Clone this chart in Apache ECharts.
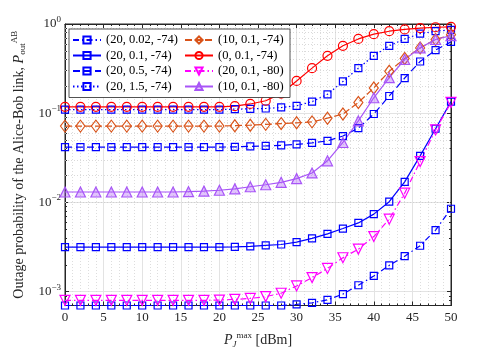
<!DOCTYPE html>
<html>
<head>
<meta charset="utf-8">
<script src="https://cdn.jsdelivr.net/npm/echarts@6/dist/echarts.min.js"></script>
<style>
html, body { margin: 0; padding: 0; background: #fff; }
#main { width: 498px; height: 354px; }
</style>
</head>
<body>
<div id="main"></div>
<script>
// P_J^max [dBm]
var pjMax = [0, 2, 4, 6, 8, 10, 12, 14, 16, 18, 20, 22, 24, 26, 28, 30, 32, 34, 36, 38, 40, 42, 44, 46, 48, 50];

var seriesNames = ['(20, 0.02, -74)', '(20, 0.1, -74)', '(20, 0.5, -74)', '(20, 1.5, -74)',
                   '(10, 0.1, -74)', '(0, 0.1, -74)', '(20, 0.1, -80)', '(10, 0.1, -80)'];

var pout_20_002_74 = [7e-4, 7e-4, 7e-4, 7e-4, 7e-4, 7e-4, 7e-4, 7e-4, 7e-4, 7e-4, 7e-4, 7e-4, 7e-4, 7e-4, 7e-4,
                      7.2e-4, 7.5e-4, 8.1e-4, 9.4e-4, 1.18e-3, 1.5e-3, 1.97e-3, 2.5e-3, 3.27e-3, 4.9e-3, 8.5e-3];
var pout_20_01_74  = [3.16e-3, 3.16e-3, 3.16e-3, 3.16e-3, 3.16e-3, 3.16e-3, 3.16e-3, 3.16e-3, 3.16e-3, 3.16e-3, 3.16e-3,
                      3.18e-3, 3.22e-3, 3.3e-3, 3.38e-3, 3.6e-3, 3.95e-3, 4.45e-3, 5.1e-3, 5.9e-3, 7.4e-3, 0.0102, 0.017, 0.0333, 0.067, 0.135];
var pout_20_05_74  = [0.0417, 0.0417, 0.0417, 0.0417, 0.0417, 0.0417, 0.0417, 0.0417, 0.0417, 0.0417, 0.0417,
                      0.042, 0.0425, 0.043, 0.0436, 0.0447, 0.0465, 0.049, 0.0555, 0.068, 0.098, 0.156, 0.248, 0.38, 0.51, 0.63];
var pout_20_15_74  = [0.11, 0.11, 0.11, 0.11, 0.11, 0.11, 0.11, 0.11, 0.11, 0.11, 0.11,
                      0.111, 0.112, 0.113, 0.116, 0.121, 0.135, 0.163, 0.227, 0.32, 0.44, 0.57, 0.68, 0.78, 0.83, 0.86];
var pout_10_01_74  = [0.0717, 0.0717, 0.0717, 0.0717, 0.0717, 0.0717, 0.0717, 0.0717, 0.0717, 0.0717, 0.0717,
                      0.0725, 0.0735, 0.075, 0.0765, 0.078, 0.08, 0.088, 0.098, 0.132, 0.192, 0.295, 0.41, 0.54, 0.67, 0.76];
var pout_0_01_74   = [0.118, 0.118, 0.118, 0.118, 0.118, 0.118, 0.118, 0.118, 0.118, 0.118, 0.118,
                      0.12, 0.127, 0.138, 0.166, 0.23, 0.32, 0.44, 0.57, 0.68, 0.77, 0.83, 0.87, 0.9, 0.92, 0.93];
var pout_20_01_80  = [8e-4, 8e-4, 8e-4, 8e-4, 8e-4, 8e-4, 8e-4, 8e-4, 8e-4, 8e-4,
                      8.05e-4, 8.2e-4, 8.4e-4, 8.8e-4, 9.6e-4, 1.16e-3, 1.44e-3, 1.82e-3, 2.4e-3, 3.0e-3, 4.15e-3, 6.5e-3, 0.0127, 0.0287, 0.065, 0.132];
var pout_10_01_80  = [0.0131, 0.0131, 0.0131, 0.0131, 0.0131, 0.0131, 0.0131, 0.0131,
                      0.0132, 0.0134, 0.0137, 0.0142, 0.015, 0.0158, 0.0168, 0.0185, 0.0214, 0.0293, 0.047, 0.082, 0.149, 0.25, 0.4, 0.54, 0.67, 0.74];

var yMajorTicks = [1e-3, 1e-2, 1e-1];
var yMinorTicks = [8e-4, 9e-4,
                   2e-3, 3e-3, 4e-3, 5e-3, 6e-3, 7e-3, 8e-3, 9e-3,
                   2e-2, 3e-2, 4e-2, 5e-2, 6e-2, 7e-2, 8e-2, 9e-2,
                   0.2, 0.3, 0.4, 0.5, 0.6, 0.7, 0.8, 0.9];

var FONT = '"Liberation Serif", "DejaVu Serif", serif';
var INK = '#262626';

function pair(vals) {
    return pjMax.map(function (x, i) { return [x, vals[i]]; });
}

function powLabel(v) {
    var lg = Math.log10(v);
    var e = Math.round(lg);
    if (Math.abs(lg - e) > 1e-6) return '';
    return '{b|10}{s|' + (e < 0 ? '\u2212' + (-e) : e) + '}';
}

// one curve
function curve(name, vals, color, dash, symbol, size, fill, rot) {
    return {
        name: name,
        type: 'line',
        data: pair(vals),
        clip: false,
        symbol: symbol,
        symbolSize: size,
        symbolRotate: rot || 0,
        showAllSymbol: true,
        lineStyle: { color: color, width: 1.2, type: dash },
        itemStyle: { color: fill || 'rgba(255,255,255,0)', borderColor: color, borderWidth: 1.2 },
        emphasis: { disabled: true },
        z: 3
    };
}

var series = [
    curve(seriesNames[0], pout_20_002_74, '#0000ff', [6, 3, 1.5, 3], 'rect', 7),
    curve(seriesNames[1], pout_20_01_74,  '#0000ff', 'solid', 'rect', 7),
    curve(seriesNames[2], pout_20_05_74,  '#0000ff', [7, 4], 'rect', 7),
    curve(seriesNames[3], pout_20_15_74,  '#0000ff', [1.5, 2.5], 'rect', 7),
    curve(seriesNames[4], pout_10_01_74,  '#d95319', [7, 3], 'diamond', [9, 12]),
    curve(seriesNames[5], pout_0_01_74,   '#ff0000', 'solid', 'circle', 9),
    curve(seriesNames[6], pout_20_01_80,  '#ff00ff', [6, 3, 1.5, 3], 'triangle', 10, null, 180),
    curve(seriesNames[7], pout_10_01_80,  '#a855f7', 'solid', 'triangle', 10, 'rgba(168,85,247,0.35)')
];

// minor dotted grid of the log axis
series[0].markLine = {
    silent: true,
    symbol: 'none',
    z: 1,
    label: { show: false },
    lineStyle: { color: '#cfcfcf', width: 0.8, type: [1, 2] },
    data: yMinorTicks.map(function (v) { return { yAxis: v }; })
};

var legendText = { fontFamily: FONT, fontSize: 12.5, color: '#000', lineHeight: 14, width: 80 };

var option = {
    animation: false,
    backgroundColor: '#fff',
    grid: { left: 65, right: 47, top: 24, bottom: 41, show: true, borderColor: INK, borderWidth: 1 },
    legend: [{
        orient: 'vertical',
        left: 69, top: 29,
        data: seriesNames.slice(0, 4),
        itemWidth: 28, itemHeight: 9, itemGap: 1.5,
        padding: [4, 104, 4, 3],
        backgroundColor: '#fff',
        borderColor: INK, borderWidth: 0.8,
        textStyle: legendText,
        selectedMode: false
    }, {
        orient: 'vertical',
        left: 184, top: 33,
        data: seriesNames.slice(4),
        itemWidth: 28, itemHeight: 9, itemGap: 1.5,
        padding: 0,
        textStyle: legendText,
        selectedMode: false
    }],
    xAxis: [{
        type: 'value', min: 0, max: 50, interval: 5,
        name: '{i|P}{sub|J}{sup|max} [dBm]',
        nameLocation: 'middle', nameGap: 26,
        nameTextStyle: {
            fontFamily: FONT, fontSize: 14, color: INK,
            rich: {
                i: { fontFamily: FONT, fontSize: 14, fontStyle: 'italic', color: INK },
                sub: { fontFamily: FONT, fontSize: 9, fontStyle: 'italic', color: INK, padding: [8, 0, 0, 0] },
                sup: { fontFamily: FONT, fontSize: 9, color: INK, padding: [0, 0, 9, 0] }
            }
        },
        axisLine: { lineStyle: { color: INK } },
        axisTick: { inside: true, length: 4, lineStyle: { color: INK } },
        minorTick: { show: true, splitNumber: 5, length: 2, lineStyle: { color: INK } },
        axisLabel: { fontFamily: FONT, fontSize: 13, color: INK, margin: 6 },
        splitLine: { show: true, lineStyle: { color: '#e3e3e3', width: 1 } },
        minorSplitLine: { show: true, lineStyle: { color: '#d4d4d4', width: 0.8, type: [1, 2] } }
    }, {
        type: 'value', min: 0, max: 50, interval: 5, position: 'top',
        axisLine: { lineStyle: { color: INK } },
        axisTick: { inside: true, length: 4, lineStyle: { color: INK } },
        minorTick: { show: true, splitNumber: 5, length: 2, lineStyle: { color: INK } },
        axisLabel: { show: false },
        splitLine: { show: false }
    }],
    yAxis: [{
        type: 'log', min: 7e-4, max: 1, position: 'left',
        name: 'Outage probability of the Alice-Bob link, {i|P}{sub|out}{sup|AB}',
        nameLocation: 'middle', nameGap: 31, nameRotate: 90,
        nameTextStyle: {
            fontFamily: FONT, fontSize: 14, color: INK,
            rich: {
                i: { fontFamily: FONT, fontSize: 14, fontStyle: 'italic', color: INK },
                sub: { fontFamily: FONT, fontSize: 9, color: INK, padding: [8, 0, 0, 0] },
                sup: { fontFamily: FONT, fontSize: 9, color: INK, padding: [0, 0, 9, 0] }
            }
        },
        axisLine: { show: true, lineStyle: { color: INK } },
        axisTick: { inside: true, length: 4, lineStyle: { color: INK } },
        axisLabel: {
            margin: 4,
            formatter: powLabel,
            rich: {
                b: { fontFamily: FONT, fontSize: 13, color: INK },
                s: { fontFamily: FONT, fontSize: 9, color: INK, padding: [0, 0, 9, 0] }
            }
        },
        splitLine: { show: true, lineStyle: { color: '#e3e3e3', width: 1 } }
    }, {
        type: 'log', min: 7e-4, max: 1, position: 'left',
        axisLine: { show: false },
        axisTick: { inside: true, length: 2, customValues: yMinorTicks, lineStyle: { color: INK } },
        axisLabel: { show: false },
        splitLine: { show: false }
    }, {
        type: 'log', min: 7e-4, max: 1, position: 'right',
        axisLine: { show: true, lineStyle: { color: INK } },
        axisTick: { inside: true, length: 4, customValues: yMajorTicks, lineStyle: { color: INK } },
        axisLabel: { show: false },
        splitLine: { show: false }
    }, {
        type: 'log', min: 7e-4, max: 1, position: 'right',
        axisLine: { show: false },
        axisTick: { inside: true, length: 2, customValues: yMinorTicks, lineStyle: { color: INK } },
        axisLabel: { show: false },
        splitLine: { show: false }
    }],
    series: series
};

var myChart = echarts.init(document.getElementById('main'), null, { renderer: 'canvas' });
myChart.setOption(option);
</script>
</body>
</html>
